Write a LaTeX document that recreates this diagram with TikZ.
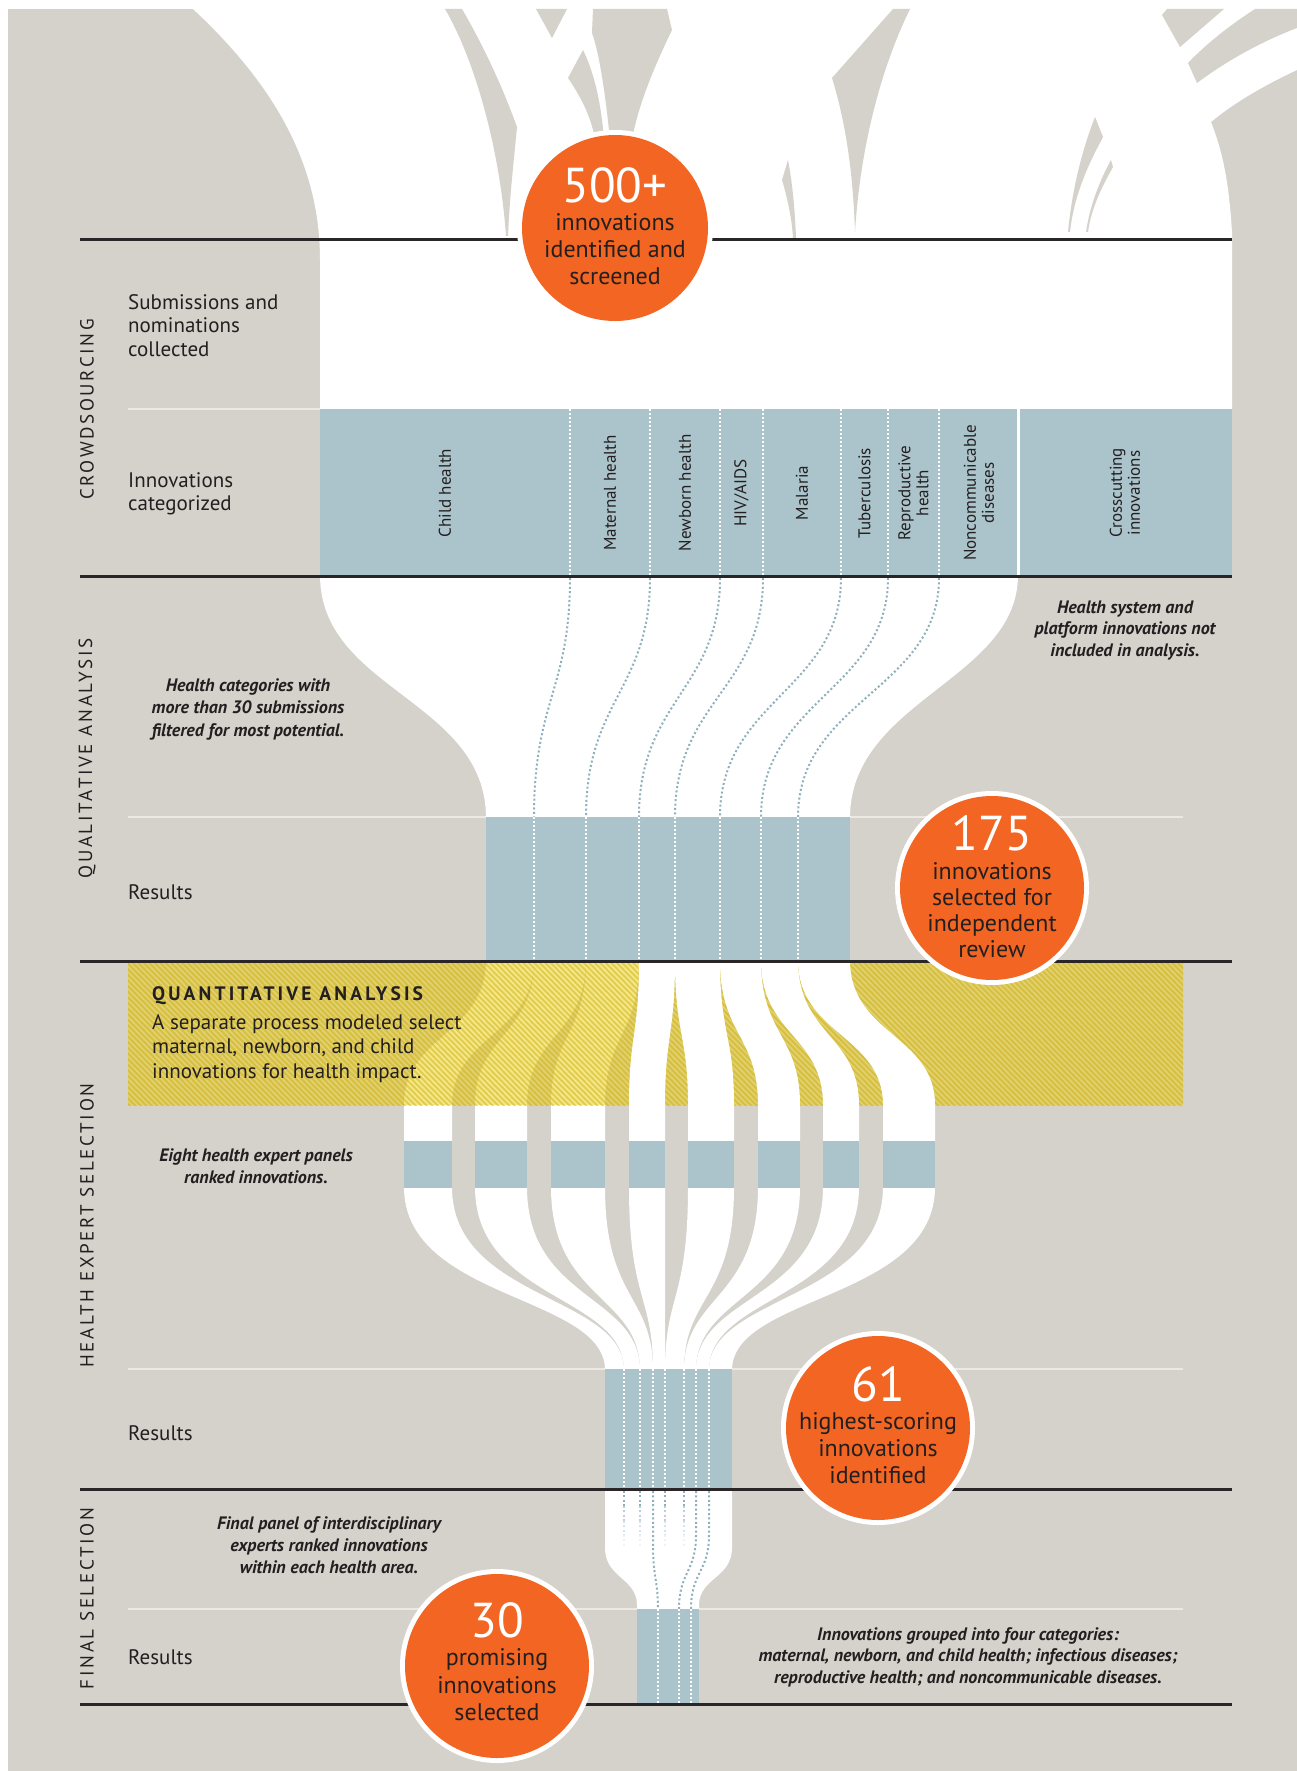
\documentclass[tikz,border=0pt]{standalone}
\usepackage{fontspec}
\setmainfont{PT Sans}
\newfontfamily\annotfont{PT Sans}
\newfontfamily\secfont[LetterSpace=14]{PT Sans}
\newfontfamily\qheadfont[LetterSpace=16]{PT Sans}
\definecolor{bg}{HTML}{D5D1CB}
\definecolor{bluebox}{HTML}{ABC4CB}
\definecolor{orng}{HTML}{F26522}
\definecolor{ink}{HTML}{231F20}
\definecolor{yel}{RGB}{239,214,27}
\definecolor{stripecol}{RGB}{200,165,0}
\definecolor{dotblue}{HTML}{8FB0BB}
\definecolor{rulecol}{HTML}{2A2627}
\definecolor{lightrule}{HTML}{ECE9E5}
\begin{document}
\begin{tikzpicture}[x=1pt,y=-1pt,
  blackrule/.style={line width=3pt, rulecol},
  lightline/.style={line width=2.5pt, lightrule},
  wdots/.style={white, line width=2pt, dash pattern=on 2pt off 2pt},
  bdots/.style={dotblue, line width=2pt, dash pattern=on 2pt off 2.4pt},
  mybody/.style={font=\fontsize{21}{24}\selectfont, text=ink, inner sep=0pt},
  myann/.style={font=\annotfont\bfseries\itshape\fontsize{18}{21}\selectfont, text=ink, inner sep=0pt, anchor=base},
  mynum/.style={font=\fontsize{49}{52}\selectfont, text=white, inner sep=0pt, anchor=base, text height=34pt, text depth=0pt},
  mytxt/.style={font=\fontsize{24}{26}\selectfont, text=ink, inner sep=0pt, anchor=base, text height=17pt, text depth=5pt},
  mycat/.style={font=\fontsize{17}{18}\selectfont, text=ink, inner sep=0pt, rotate=90, align=center},
  mysec/.style={font=\secfont\fontsize{19}{20}\selectfont, text=ink, inner sep=0pt, rotate=90},
  myqhead/.style={font=\qheadfont\bfseries\fontsize{19.5}{21}\selectfont, text=ink, inner sep=0pt, anchor=base west}
]
\useasboundingbox (0,0) rectangle (1297,1771);
\fill[white] (0,0) rectangle (1297,1771);
\fill[bg] (8,9) rectangle (1297,1771);

% ---- top white field with converging streams
\fill[white] (193,0) -- (1297,0) -- (1297,70) .. controls (1265,85) and (1235,102) .. (1211,122)
  .. controls (1222,150) and (1229,180) .. (1232,233) -- (1232,409) -- (320,409) -- (320,260)
  .. controls (320,170) and (280,90) .. (193,9) -- cycle;
% gray slivers between streams
\fill[bg] (445,9) .. controls (475,60) and (500,150) .. (506,236) -- (508,236)
  .. controls (510,190) and (515,150) .. (517,127) .. controls (500,80) and (480,40) .. (462,9) -- cycle;
\fill[bg] (536,9) -- (567,9) -- (552,38) -- cycle;
\fill[bg] (583,50) -- (568,78) .. controls (583,100) and (592,120) .. (595,140) -- (604,140)
  .. controls (601,100) and (593,70) .. (583,50) -- cycle;
\fill[bg] (593,9) -- (667,9) -- (672,30) .. controls (655,65) and (638,105) .. (632,140) -- (610,140)
  .. controls (606,100) and (600,55) .. (592,33) -- cycle;
\fill[bg] (788,160) -- (782,180) .. controls (788,200) and (792,220) .. (793,238) -- (796,238)
  .. controls (795,210) and (792,180) .. (788,160) -- cycle;
\fill[bg] (893,9) -- (910,9) .. controls (880,70) and (860,150) .. (855,232)
  .. controls (853,170) and (845,120) .. (832,78) -- cycle;
\fill[bg] (1095,117) -- (1103,137) .. controls (1088,165) and (1074,195) .. (1070,232) -- (1068,232)
  .. controls (1072,190) and (1082,150) .. (1095,117) -- cycle;
\fill[bg] (1111,160) -- (1113,167) .. controls (1100,190) and (1091,210) .. (1088,232) -- (1086,232)
  .. controls (1090,205) and (1100,180) .. (1111,160) -- cycle;
\fill[bg] (1167,9) -- (1224,9) -- (1180,47) -- (1162,15) -- cycle;
\fill[bg] (1188,63) .. controls (1210,40) and (1235,22) .. (1255,9) -- (1297,9) -- (1297,28)
  .. controls (1260,42) and (1225,62) .. (1197,83) -- cycle;

% ---- light separator lines
\draw[lightline] (128,409) -- (320,409);
\foreach \yy in {817,1369,1609} \draw[lightline] (128,\yy) -- (1183,\yy);

% ---- category band
\fill[bluebox] (320,409) rectangle (1232,576);
\foreach \xx in {570,650,720,763,841,888,939} \draw[wdots] (\xx,409) -- (\xx,576);
\draw[white, line width=3pt] (1018,409) -- (1018,576);

% ---- first funnel
\fill[white] (320,575) .. controls (320,690) and (486,700) .. (486,818) -- (850,818)
  .. controls (850,700) and (1018,680) .. (1018,575) -- cycle;
\foreach \a/\b in {570/534,650/586,720/639,763/675,841/720,888/761,939/798}
  \draw[bdots] (\a,578) .. controls (\a,690) and (\b,700) .. (\b,817);

% ---- results box 1
\fill[bluebox] (486,817) rectangle (850,961);
\foreach \xx in {534,586,639,675,720,761,798} \draw[wdots] (\xx,817) -- (\xx,961);

% ---- upper flows under the quantitative overlay
\foreach \lt/\rt/\lb/\rb in {486/534/404/452,534/586/475/527,586/639/551/605}
  \fill[white] (\lt,960) .. controls (\lt,1035) and (\lb,1035) .. (\lb,1105) -- (\lb,1142) -- (\rb,1142)
    -- (\rb,1105) .. controls (\rb,1035) and (\rt,1035) .. (\rt,960) -- cycle;

% ---- quantitative analysis overlay
\fill[yel, opacity=0.5] (128,961) rectangle (1183,1105);
\begin{scope}
  \clip (128,961) rectangle (1183,1105);
  \foreach \i in {-28,...,193}
    \draw[stripecol, opacity=0.42, line width=2.1pt] ({128+\i*5.5},958) -- ({128+\i*5.5+147},1108);
\end{scope}

% ---- upper flows above the overlay
\foreach \lt/\rt/\lb/\rb in {639/675/629/665,675/720/688/734,720/761/758/800,761/798/823/859,798/850/883/935}
  \fill[white] (\lt,960) .. controls (\lt,1035) and (\lb,1035) .. (\lb,1105) -- (\lb,1142) -- (\rb,1142)
    -- (\rb,1105) .. controls (\rb,1035) and (\rt,1035) .. (\rt,960) -- cycle;

% ---- lower converging flows
\foreach \lb/\rb/\lc/\rc in {404/452/605/624,475/527/624/640,551/605/640/653,629/665/653/665,
    688/734/665/684,758/800/684/696,823/859/696/709,883/935/709/732}
  \fill[white] (\lb,1187) .. controls (\lb,1300) and (\lc,1295) .. (\lc,1370) -- (\rc,1370)
    .. controls (\rc,1295) and (\rb,1300) .. (\rb,1187) -- cycle;

% ---- expert panel bars
\foreach \lb/\rb in {404/452,475/527,551/605,629/665,688/734,758/800,823/859,883/935}
  \fill[bluebox] (\lb,1141) rectangle (\rb,1188);

% ---- results box 2
\fill[bluebox] (605,1369) rectangle (732,1489);
\foreach \xx in {624,640,653,665,684,696,709} \draw[wdots] (\xx,1369) -- (\xx,1489);

% ---- final funnel
\fill[white] (605,1488) -- (605,1548) .. controls (605,1578) and (637,1578) .. (637,1605) -- (637,1610)
  -- (699,1610) -- (699,1605) .. controls (699,1578) and (732,1578) .. (732,1548) -- (732,1488) -- cycle;
\foreach \xx in {624,640,665,684} {
  \draw[bdots] (\xx,1491) -- (\xx,1506);
  \draw[bdots, opacity=0.6] (\xx,1506) -- (\xx,1521);
  \draw[bdots, opacity=0.35] (\xx,1521) -- (\xx,1535);
  \draw[bdots, opacity=0.15] (\xx,1535) -- (\xx,1548);
}
\draw[bdots] (653,1491) -- (653,1545) .. controls (653,1578) and (658,1580) .. (658,1609);
\draw[bdots] (696,1491) -- (696,1535) .. controls (696,1572) and (679,1572) .. (679,1609);
\draw[bdots] (709,1491) -- (709,1535) .. controls (709,1572) and (691,1572) .. (691,1609);

% ---- final box
\fill[bluebox] (637,1609) rectangle (699,1704);
\foreach \xx in {658,679,691} \draw[wdots] (\xx,1609) -- (\xx,1704);

% ---- section rules
\foreach \yy in {240,576,961,1489,1704} \draw[blackrule] (80,\yy) -- (1232,\yy);

% ---- circles
\coordinate (c500) at (615,228);
\coordinate (c175) at (992,888);
\coordinate (c61) at (878,1428);
\coordinate (c30) at (497,1666);
\fill[white] (c500) circle[radius=98];
\fill[orng] (c500) circle[radius=93];
\foreach \cc in {c175,c61,c30} {
  \fill[white] (\cc) circle[radius=97];
  \fill[orng] (\cc) circle[radius=92];
}
\node[mynum] (n500) at (615,203) {500+};
\node[mytxt] (t500a) at (615,231) {innovations};
\node[mytxt] (t500b) at (615,257.5) {identified and};
\node[mytxt] (t500c) at (615,284) {screened};

\node[mynum] (n175) at (992,850) {175};
\node[mytxt] (t175a) at (992,879) {innovations};
\node[mytxt] (t175b) at (992,905) {selected for};
\node[mytxt] (t175c) at (992,931) {independent};
\node[mytxt] (t175d) at (992,957) {review};

\node[mynum] (n61) at (878,1401) {61};
\node[mytxt] (t61a) at (878,1429) {highest-scoring};
\node[mytxt] (t61b) at (878,1456) {innovations};
\node[mytxt] (t61c) at (878,1483) {identified};

\node[mynum] (n30) at (497,1637) {30};
\node[mytxt] (t30a) at (497,1665) {promising};
\node[mytxt] (t30b) at (497,1693) {innovations};
\node[mytxt] (t30c) at (497,1720) {selected};

% ---- category labels
\node[mycat] (k1) at (445,493) {Child health};
\node[mycat] (k2) at (610,493) {Maternal health};
\node[mycat] (k3) at (685,493) {Newborn health};
\node[mycat] (k4) at (741.5,493) {HIV/AIDS};
\node[mycat] (k5) at (802,493) {Malaria};
\node[mycat] (k6) at (864.5,493) {Tuberculosis};
\node[mycat] (k7) at (913.5,493) {Reproductive\\health};
\node[mycat] (k8) at (979,493) {Noncommunicable\\diseases};
\node[mycat] (k9) at (1125,493) {Crosscutting\\innovations};

% ---- section labels
\node[mysec] (s1) at (87,409.5) {CROWDSOURCING};
\node[mysec] (s2) at (87,758.5) {QUALITATIVE ANALYSIS};
\node[mysec] (s3) at (87,1225.5) {HEALTH EXPERT SELECTION};
\node[mysec] (s4) at (87,1598.5) {FINAL SELECTION};

% ---- row labels
\node[mybody, anchor=base west] (r1a) at (128,309) {Submissions and};
\node[mybody, anchor=base west] (r1b) at (128,332.5) {nominations};
\node[mybody, anchor=base west] (r1c) at (128,356.5) {collected};
\node[mybody, anchor=base west] (r2a) at (128,487) {Innovations};
\node[mybody, anchor=base west] (r2b) at (128,510.5) {categorized};
\node[mybody, anchor=base west] (r3) at (128,899) {Results};
\node[mybody, anchor=base west] (r4) at (128,1440) {Results};
\node[mybody, anchor=base west] (r5) at (128,1664) {Results};

% ---- annotations
\node[myann] (a1a) at (248,691) {Health categories with};
\node[myann] (a1b) at (248,713.5) {more than 30 submissions};
\node[myann] (a1c) at (248,736) {filtered for most potential.};
\node[myann] (a2a) at (1125,613) {Health system and};
\node[myann] (a2b) at (1125,634.5) {platform innovations not};
\node[myann] (a2c) at (1125,656) {included in analysis.};
\node[myann] (a3a) at (256,1161) {Eight health expert panels};
\node[myann] (a3b) at (256,1183.5) {ranked innovations.};
\node[myann] (a4a) at (329,1529) {Final panel of interdisciplinary};
\node[myann] (a4b) at (329,1551) {experts ranked innovations};
\node[myann] (a4c) at (329,1573) {within each health area.};
\node[myann] (a5a) at (968,1640) {Innovations grouped into four categories:};
\node[myann] (a5b) at (968,1661.5) {maternal, newborn, and child health; infectious diseases;};
\node[myann] (a5c) at (968,1683) {reproductive health; and noncommunicable diseases.};

% ---- quantitative analysis text
\node[myqhead] (q0) at (152,1000.5) {QUANTITATIVE ANALYSIS};
\node[mybody, anchor=base west] (q1) at (152,1029) {A separate process modeled select};
\node[mybody, anchor=base west] (q2) at (152,1053.5) {maternal, newborn, and child};
\node[mybody, anchor=base west] (q3) at (152,1078) {innovations for health impact.};
\end{tikzpicture}
\end{document}
